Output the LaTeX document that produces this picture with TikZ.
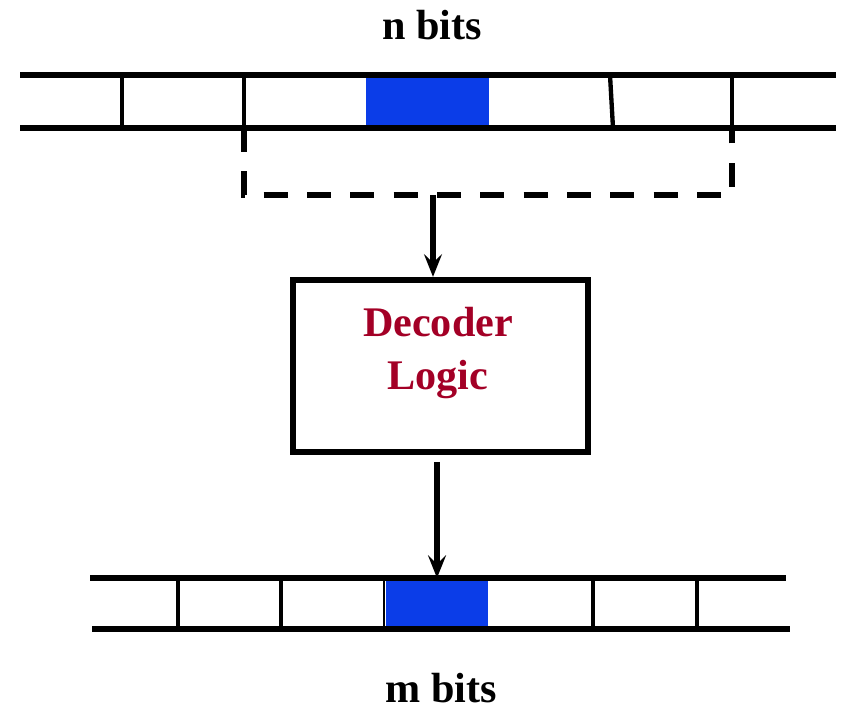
\documentclass[tikz,border=0pt]{standalone}
\usepackage{fontspec}
\setmainfont{Liberation Serif}
\usepackage{xcolor}
\usepackage{tikz}
\usetikzlibrary{arrows.meta,positioning}
\definecolor{regBlue}{RGB}{11,61,232}
\definecolor{decRed}{RGB}{163,0,38}

\tikzset{
  rail/.style={line width=1.9mm},
  cell/.style={line width=1.3mm},
  flow/.style={line width=1.6mm, -{Stealth[length=6.8mm,width=5.4mm,inset=2.6mm]}},
  lbl/.style={font=\fontsize{36}{45}\selectfont\bfseries, inner sep=0pt}
}

\begin{document}
\begin{tikzpicture}[x=0.03cm,y=-0.03cm]
\useasboundingbox (0,0) rectangle (842,710);

% top register (n bits)
\fill[regBlue] (366,75) rectangle (489,128);
\foreach \x in {122,244,732}{
  \draw[cell] (\x,75) -- (\x,128);
}
\draw[cell] (610,75) -- (613,128);
\draw[rail] (20,75) -- (836,75);
\draw[rail] (20,128) -- (836,128);
\node[lbl] (nlbl) at (432,25) {n bits};

% selected field
\draw[line width=1.6mm, dash pattern=on 7.2mm off 5.8mm]
  (244,128) -- (244,195) -- (732,195) -- (732,128);
\coordinate (brk) at (433,195);

% decoder
\node[draw, line width=1.9mm, minimum width=8.85cm, minimum height=5.16cm, inner sep=0pt]
  (dec) at (440.5,366) {};
\node[lbl, text=decRed, align=center] (declbl) at (438,353) {Decoder\\Logic};

% bottom register (m bits)
\coordinate (mtop) at (437,578);
\fill[regBlue] (386,578) rectangle (488,629);
\foreach \x in {178,281,593,697}{
  \draw[cell] (\x,578) -- (\x,629);
}
\draw[line width=0.5mm] (384,578) -- (384,629);
\draw[rail] (90,578) -- (786,578);
\draw[rail] (92,629) -- (790,629);
\node[lbl] (mlbl) at (441,688) {m bits};

% connectors
\draw[flow] (brk) -- (brk |- dec.north);
\draw[flow, shorten <=2mm] (dec.south -| mtop) -- (mtop);
\end{tikzpicture}
\end{document}
